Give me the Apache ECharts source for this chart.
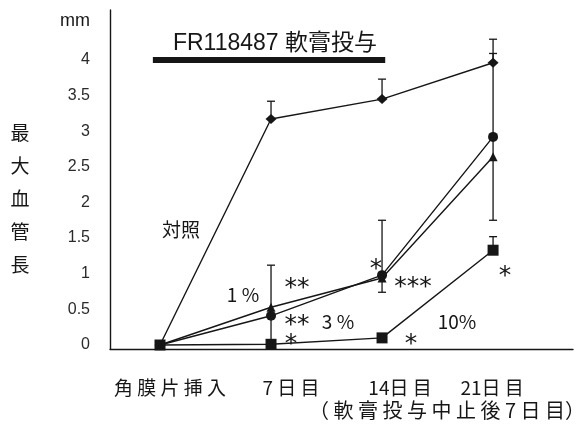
<!DOCTYPE html>
<html>
<head>
<meta charset="utf-8">
<script src="https://cdn.jsdelivr.net/npm/echarts@6/dist/echarts.min.js"></script>
<style>
  html, body { margin: 0; padding: 0; background: #fff; }
  #main { width: 578px; height: 436px; }
</style>
</head>
<body>
<div id="main"></div>
<script>
// 観察日（日）とラベル
var days = [0, 7, 14, 21];
var dayLabels = ['角 膜 片 挿 入', '7 日 目', '14日 目', '21日 目'];
var yTicks = [0, 0.5, 1, 1.5, 2, 2.5, 3, 3.5, 4];

// 最大血管長 (mm)
var control = [0, 3.17, 3.45, 3.96];
var pct1 = [0, 0.53, 0.94, 2.64];
var pct3 = [0, 0.41, 0.98, 2.92];
var pct10 = [0, 0.01, 0.1, 1.33];

// 誤差（上・下）
var controlUp = [0, 0.25, 0.28, 0.33];
var controlDown = [0, 0, 0, 0];
var pct1Up = [0, 0.59, 0.81, 0];
var pct1Down = [0, 0.52, 0, 0];
var pct3Up = [0, 0, 0, 1.17];
var pct3Down = [0, 0, 0.24, 1.17];
var pct10Up = [0, 0, 0, 0.19];
var pct10Down = [0, 0, 0, 0];

// 軟膏投与期間
var dosing = [-0.45, 14.2];
var dosingLevel = 4.0;

var ink = '#161616';
var jp = '"Noto Sans CJK JP", sans-serif';

function errData(mean, up, down) {
    var out = [];
    for (var i = 0; i < mean.length; i++) {
        if (up[i] > 0 || down[i] > 0) {
            out.push([days[i], mean[i] - down[i], mean[i] + up[i], down[i] > 0 ? 1 : 0, up[i] > 0 ? 1 : 0]);
        }
    }
    return out;
}
var errAll = [].concat(
    errData(control, controlUp, controlDown),
    errData(pct1, pct1Up, pct1Down),
    errData(pct3, pct3Up, pct3Down),
    errData(pct10, pct10Up, pct10Down)
);

function pairs(arr) {
    return arr.map(function (v, i) { return [days[i], v]; });
}

function lineSeries(name, data, symbol, size) {
    return {
        name: name,
        type: 'line',
        data: pairs(data),
        symbol: symbol,
        symbolSize: size,
        showSymbol: true,
        lineStyle: { color: ink, width: 1.4 },
        itemStyle: { color: ink },
        z: 3
    };
}

var chart = echarts.init(document.getElementById('main'));

// ラベルの横ずれ（元図に合わせる）
var labelRich = {
    s0: { fontSize: 19, fontFamily: jp, color: ink, padding: [0, 0, 0, 20] },
    s1: { fontSize: 19, fontFamily: jp, color: ink, padding: [0, 0, 0, 40] },
    s2: { fontSize: 19, fontFamily: jp, color: ink, padding: [0, 0, 0, 36] },
    s3: { fontSize: 19, fontFamily: jp, color: ink, padding: [0, 2, 0, 0] }
};

// 重なり判定を避けるため x 軸を二本に分ける
function dayAxis(values, showLine) {
    return {
        type: 'value',
        position: 'bottom',
        offset: 0,
        min: -3.153,
        max: 26.04,
        splitLine: { show: false },
        axisTick: { show: false },
        axisLine: { show: showLine, onZero: false, lineStyle: { color: ink, width: 1.4 } },
        axisLabel: {
            customValues: values,
            margin: 28,
            lineHeight: 22,
            formatter: function (v) {
                var i = days.indexOf(v);
                return '{s' + i + '|' + dayLabels[i] + '}';
            },
            rich: labelRich
        }
    };
}

function txt(text, x, y, size, family) {
    return {
        type: 'text', x: x, y: y, z: 10,
        style: {
            text: text, fill: ink, align: 'center', verticalAlign: 'middle',
            fontSize: size, fontFamily: family || jp
        }
    };
}
var star = '"DejaVu Sans", sans-serif';

var option = {
    animation: false,
    backgroundColor: '#fff',
    grid: { left: 110, right: 5, top: 10, bottom: 87 },
    xAxis: [
        dayAxis([days[0], days[2]], true),
        dayAxis([days[1], days[3]], false)
    ],
    yAxis: {
        type: 'value',
        min: -0.056,
        max: 4.7,
        splitLine: { show: false },
        axisTick: { show: false },
        axisLine: { onZero: false, lineStyle: { color: ink, width: 1.4 } },
        axisLabel: {
            customValues: yTicks,
            margin: 20,
            fontSize: 16,
            fontFamily: '"Liberation Sans", Arial, sans-serif',
            color: '#2a2a2a',
            formatter: function (v) { return String(v); }
        }
    },
    graphic: [
        txt('mm', 75, 21, 18, '"Liberation Sans", Arial, sans-serif'),
        {
            type: 'text', x: 20, y: 199, z: 10,
            style: {
                text: '最\n大\n血\n管\n長', fill: ink, align: 'center', verticalAlign: 'middle',
                fontSize: 19, fontFamily: jp, lineHeight: 33
            }
        },
        txt('FR118487 軟膏投与', 275, 44, 23, '"Liberation Sans", "Noto Sans CJK JP", sans-serif'),
        txt('（ 軟 膏 投 与 中 止 後 7 日 目）', 447, 410, 20),
        txt('対照', 181, 230, 19),
        txt('1 %', 243, 295, 19),
        txt('3 %', 338, 322, 19),
        txt('10%', 457, 322, 19),
        txt('**', 297, 288, 25, star),
        txt('**', 297, 325, 25, star),
        txt('*', 291, 344, 25, star),
        txt('*', 376, 269, 25, star),
        txt('***', 413, 287, 25, star),
        txt('*', 411, 344, 25, star),
        txt('*', 505, 276, 25, star)
    ],
    series: [
        {
            type: 'custom',
            name: 'err',
            data: errAll,
            z: 2,
            renderItem: function (params, api) {
                var x = api.value(0);
                var lo = api.coord([x, api.value(1)]);
                var hi = api.coord([x, api.value(2)]);
                var children = [{
                    type: 'line',
                    shape: { x1: lo[0], y1: lo[1], x2: hi[0], y2: hi[1] },
                    style: { stroke: ink, lineWidth: 1.3 }
                }];
                if (api.value(3)) {
                    children.push({ type: 'line', shape: { x1: lo[0] - 4, y1: lo[1], x2: lo[0] + 4, y2: lo[1] }, style: { stroke: ink, lineWidth: 1.3 } });
                }
                if (api.value(4)) {
                    children.push({ type: 'line', shape: { x1: hi[0] - 4, y1: hi[1], x2: hi[0] + 4, y2: hi[1] }, style: { stroke: ink, lineWidth: 1.3 } });
                }
                return { type: 'group', children: children };
            }
        },
        Object.assign(lineSeries('対照', control, 'diamond', [11, 10]), {
            markLine: {
                silent: true,
                symbol: 'none',
                label: { show: false },
                lineStyle: { color: ink, width: 6, type: 'solid' },
                data: [[{ coord: [dosing[0], dosingLevel] }, { coord: [dosing[1], dosingLevel] }]]
            }
        }),
        lineSeries('1%', pct1, 'triangle', 9),
        lineSeries('3%', pct3, 'circle', 10),
        lineSeries('10%', pct10, 'rect', 11)
    ]
};
chart.setOption(option);
</script>
</body>
</html>
